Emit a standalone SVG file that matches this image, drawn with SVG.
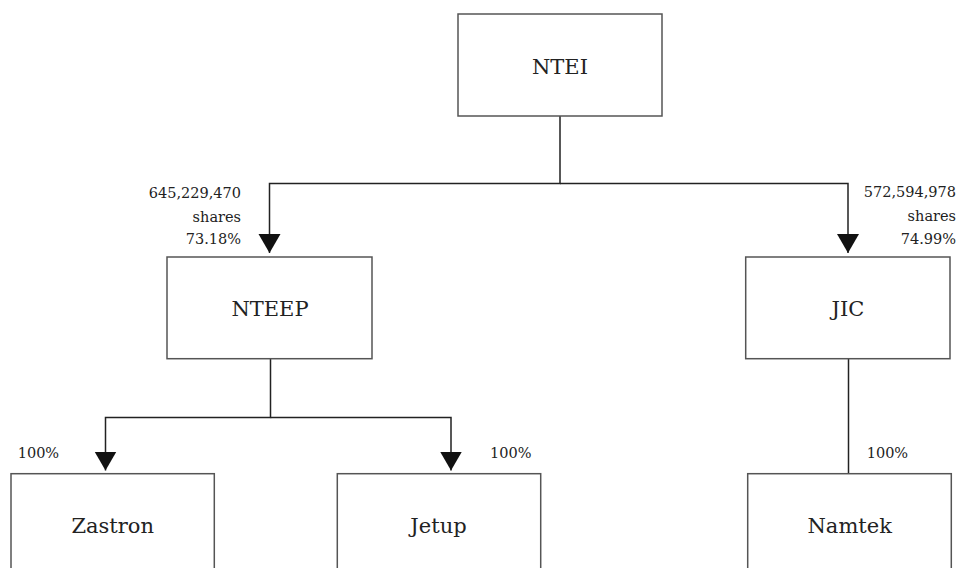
<svg xmlns="http://www.w3.org/2000/svg" width="961" height="568" viewBox="0 0 961 568">
<style>
.box{fill:#fff;stroke:#555;stroke-width:1.5}
.conn{fill:none;stroke:#222;stroke-width:1.5}
.nt{font-family:"DejaVu Serif",serif;font-size:21px;fill:#222;text-anchor:middle}
.lb{font-family:"DejaVu Serif",serif;font-size:14.5px;fill:#222}
</style>
<defs>
<marker id="arr" markerUnits="userSpaceOnUse" markerWidth="20" markerHeight="24" viewBox="0 -12 20 24" refX="19" refY="0" orient="auto">
<path d="M0,-11 L19,0 L0,11 z" fill="#111"/>
</marker>
</defs>
<rect width="961" height="568" fill="#fff"/>
<g id="connectors">
<path class="conn" d="M560,116 V183.5 H269.5 V253" marker-end="url(#arr)"/>
<path class="conn" d="M560,183.5 H848 V253" marker-end="url(#arr)"/>
<path class="conn" d="M270.5,358.7 V417.5 H105.5 V470.5" marker-end="url(#arr)"/>
<path class="conn" d="M270.5,417.5 H451 V470.5" marker-end="url(#arr)"/>
<path class="conn" d="M848.5,358.7 V473.7"/>
</g>
<g id="ntei">
<rect class="box" x="458" y="14" width="204" height="102"/>
<text class="nt" x="560" y="73.5">NTEI</text>
</g>
<g id="nteep">
<rect class="box" x="167" y="257" width="205" height="101.7"/>
<text class="nt" x="270" y="316">NTEEP</text>
</g>
<g id="jic">
<rect class="box" x="745.7" y="257" width="204.3" height="101.7"/>
<text class="nt" x="848" y="316">JIC</text>
</g>
<g id="zastron">
<rect class="box" x="11" y="473.7" width="203.3" height="110"/>
<text class="nt" x="112.7" y="533">Zastron</text>
</g>
<g id="jetup">
<rect class="box" x="337.3" y="473.7" width="203.4" height="110"/>
<text class="nt" x="438.5" y="533">Jetup</text>
</g>
<g id="namtek">
<rect class="box" x="747.7" y="473.7" width="203.6" height="110"/>
<text class="nt" x="849.7" y="533">Namtek</text>
</g>
<g id="labels">
<text class="lb" text-anchor="end" x="241" y="198">645,229,470</text>
<text class="lb" text-anchor="end" x="241" y="221.5">shares</text>
<text class="lb" text-anchor="end" x="241" y="244">73.18%</text>
<text class="lb" text-anchor="end" x="956" y="197">572,594,978</text>
<text class="lb" text-anchor="end" x="956" y="220.5">shares</text>
<text class="lb" text-anchor="end" x="956" y="243.5">74.99%</text>
<text class="lb" x="17.7" y="458">100%</text>
<text class="lb" x="490" y="458">100%</text>
<text class="lb" x="866.7" y="458">100%</text>
</g>
</svg>
